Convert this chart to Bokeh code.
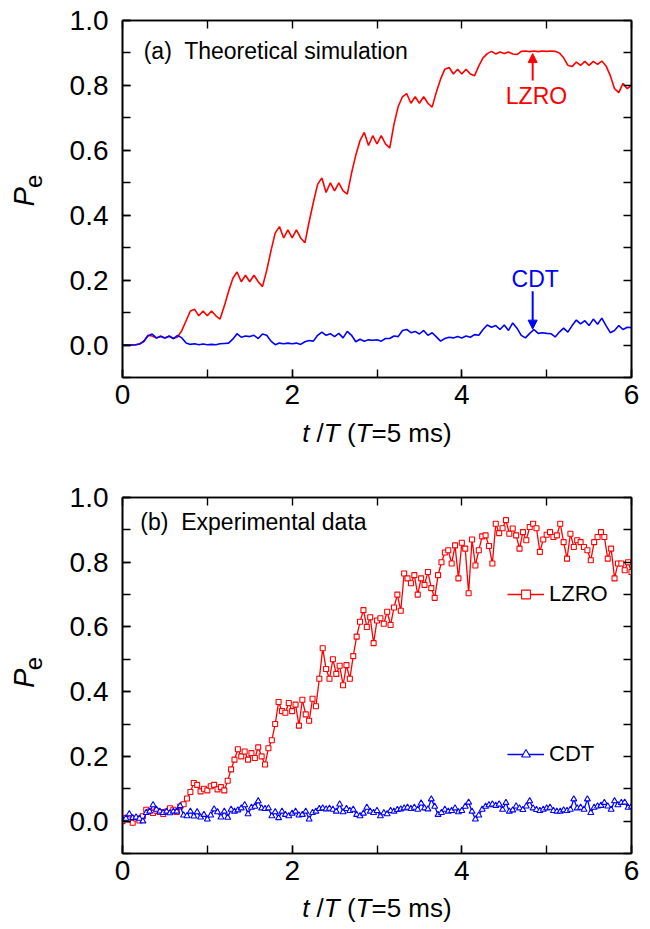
import math
from bokeh.plotting import figure
from bokeh.layouts import column, row
from bokeh.core.properties import value
from bokeh.models import (Range1d, LinearAxis, SingleIntervalTicker, FixedTicker,
                          NumeralTickFormatter, Label, Arrow, NormalHead, Legend, LegendItem)
from bokeh.embed import file_html
from bokeh.resources import INLINE

FONT = "Liberation Sans"
RED = "#ff0000"
BLUE = "#0000ff"

# ---------------- data ----------------
# (a) theoretical simulation, sampled every 0.05 T
t_theory = [round(i * 0.05, 2) for i in range(121)]
lzro_theory = [
    0.000, 0.000, 0.000, 0.000, 0.003, 0.010, 0.030, 0.028, 0.022, 0.028,
    0.022, 0.028, 0.020, 0.025, 0.045, 0.075, 0.105, 0.110, 0.090, 0.105,
    0.090, 0.105, 0.090, 0.080, 0.120, 0.165, 0.205, 0.225, 0.195, 0.215,
    0.195, 0.215, 0.195, 0.180, 0.230, 0.290, 0.345, 0.365, 0.330, 0.355,
    0.330, 0.355, 0.330, 0.315, 0.380, 0.440, 0.495, 0.515, 0.470, 0.500,
    0.475, 0.500, 0.475, 0.465, 0.530, 0.585, 0.630, 0.655, 0.615, 0.645,
    0.620, 0.645, 0.620, 0.607, 0.680, 0.735, 0.765, 0.775, 0.745, 0.765,
    0.745, 0.765, 0.745, 0.733, 0.780, 0.820, 0.850, 0.855, 0.835, 0.850,
    0.835, 0.850, 0.835, 0.830, 0.860, 0.885, 0.898, 0.905, 0.897, 0.903,
    0.898, 0.903, 0.897, 0.895, 0.905, 0.906, 0.904, 0.906, 0.904, 0.906,
    0.905, 0.906, 0.905, 0.900, 0.885, 0.862, 0.858, 0.872, 0.862, 0.874,
    0.862, 0.874, 0.865, 0.875, 0.860, 0.830, 0.790, 0.778, 0.806, 0.790,
    0.800,
]
cdt_theory = [
    0.000, 0.000, 0.000, 0.001, 0.003, 0.012, 0.028, 0.034, 0.022, 0.026,
    0.022, 0.027, 0.020, 0.030, 0.022, 0.006, 0.002, 0.004, 0.001, 0.003,
    0.001, 0.002, 0.001, 0.004, 0.005, 0.006, 0.018, 0.035, 0.024, 0.028,
    0.026, 0.030, 0.020, 0.034, 0.030, 0.012, 0.001, 0.006, 0.004, 0.006,
    0.004, 0.006, 0.002, 0.010, 0.014, 0.012, 0.030, 0.040, 0.030, 0.035,
    0.026, 0.036, 0.022, 0.042, 0.030, 0.010, 0.018, 0.012, 0.016, 0.015,
    0.016, 0.012, 0.020, 0.020, 0.028, 0.026, 0.045, 0.048, 0.038, 0.042,
    0.034, 0.045, 0.030, 0.038, 0.025, 0.012, 0.020, 0.024, 0.022, 0.026,
    0.022, 0.028, 0.024, 0.032, 0.030, 0.048, 0.062, 0.055, 0.060, 0.048,
    0.062, 0.045, 0.068, 0.052, 0.030, 0.022, 0.036, 0.048, 0.036, 0.038,
    0.036, 0.035, 0.025, 0.040, 0.052, 0.040, 0.060, 0.077, 0.065, 0.075,
    0.060, 0.080, 0.064, 0.083, 0.060, 0.038, 0.045, 0.060, 0.048, 0.055,
    0.054,
]

# (b) experimental data, sampled every 0.04 T
t_exp = [round(i * 0.04, 2) for i in range(151)]
lzro_exp = [
    0.000, 0.010, 0.005, -0.005, 0.008, 0.002, 0.015, 0.035, 0.030, 0.025,
    0.032, 0.028, 0.022, 0.030, 0.040, 0.035, 0.028, 0.045, 0.052, 0.070,
    0.090, 0.118, 0.112, 0.092, 0.100, 0.095, 0.108, 0.112, 0.098, 0.105,
    0.095, 0.125, 0.160, 0.190, 0.222, 0.200, 0.215, 0.190, 0.210, 0.195,
    0.228, 0.200, 0.175, 0.225, 0.250, 0.300, 0.368, 0.340, 0.335, 0.365,
    0.340, 0.360, 0.295, 0.375, 0.330, 0.310, 0.378, 0.355, 0.440, 0.534,
    0.470, 0.440, 0.500, 0.455, 0.480, 0.420, 0.482, 0.440, 0.510, 0.570,
    0.616, 0.652, 0.600, 0.630, 0.550, 0.620, 0.627, 0.610, 0.647, 0.606,
    0.660, 0.700, 0.650, 0.765, 0.750, 0.735, 0.760, 0.700, 0.750, 0.730,
    0.770, 0.720, 0.690, 0.760, 0.800, 0.830, 0.837, 0.796, 0.852, 0.750,
    0.860, 0.842, 0.704, 0.870, 0.790, 0.837, 0.880, 0.883, 0.850, 0.796,
    0.919, 0.890, 0.905, 0.930, 0.888, 0.904, 0.883, 0.842, 0.893, 0.868,
    0.909, 0.919, 0.905, 0.832, 0.870, 0.885, 0.893, 0.878, 0.883, 0.919,
    0.862, 0.811, 0.888, 0.847, 0.868, 0.862, 0.847, 0.837, 0.806, 0.862,
    0.878, 0.893, 0.878, 0.811, 0.842, 0.750, 0.796, 0.796, 0.775, 0.800,
    0.770,
]
cdt_exp = [
    0.006, 0.008, 0.022, 0.010, 0.012, 0.008, 0.000, 0.026, 0.030, 0.050,
    0.036, 0.030, 0.026, 0.030, 0.025, 0.030, 0.030, 0.047, 0.018, 0.016,
    0.030, 0.015, 0.028, 0.012, 0.020, 0.006, 0.018, 0.037, 0.028, 0.012,
    0.030, 0.011, 0.036, 0.030, 0.034, 0.040, 0.050, 0.022, 0.042, 0.045,
    0.062, 0.040, 0.038, 0.040, 0.016, 0.028, 0.010, 0.030, 0.020, 0.016,
    0.024, 0.030, 0.018, 0.020, 0.030, 0.006, 0.026, 0.030, 0.038, 0.040,
    0.037, 0.039, 0.036, 0.030, 0.052, 0.028, 0.038, 0.032, 0.036, 0.020,
    0.016, 0.024, 0.042, 0.030, 0.026, 0.032, 0.016, 0.025, 0.022, 0.032,
    0.030, 0.035, 0.037, 0.040, 0.042, 0.038, 0.042, 0.036, 0.055, 0.040,
    0.037, 0.068, 0.045, 0.020, 0.026, 0.036, 0.030, 0.032, 0.040, 0.028,
    0.032, 0.045, 0.058, 0.030, 0.006, 0.018, 0.036, 0.045, 0.050, 0.052,
    0.048, 0.052, 0.036, 0.057, 0.030, 0.034, 0.046, 0.040, 0.035, 0.046,
    0.062, 0.040, 0.035, 0.032, 0.036, 0.040, 0.042, 0.032, 0.030, 0.030,
    0.034, 0.032, 0.036, 0.068, 0.040, 0.042, 0.036, 0.068, 0.026, 0.042,
    0.046, 0.048, 0.057, 0.046, 0.036, 0.062, 0.050, 0.057, 0.058, 0.042,
    0.045,
]

x_range_vals = (0, 6)
y_range_vals = (-0.1, 1.0)
x_minor_positions = [0, 1, 2, 3, 4, 5, 6]
y_minor_positions = [-0.1, 0.0, 0.1, 0.2, 0.3, 0.4, 0.5, 0.6, 0.7, 0.8, 0.9, 1.0]

TICK_FONT = "28px"
YSTRIP_W = 58          # width of the strip holding the rotated y title
PLOT_W = 590           # width of each plot canvas


def style_axis(ax, standoff):
    ax.axis_line_width = 1.6
    ax.axis_line_color = "black"
    ax.major_tick_in = 8
    ax.major_tick_out = 0
    ax.minor_tick_in = 8
    ax.minor_tick_out = 0
    ax.major_tick_line_width = 1.4
    ax.minor_tick_line_width = 1.4
    ax.major_tick_line_color = "black"
    ax.minor_tick_line_color = "black"
    ax.major_label_text_font = FONT
    ax.major_label_text_font_size = TICK_FONT
    ax.major_label_text_color = "black"
    ax.major_label_standoff = standoff


def make_fig(h, btop, bbot):
    p = figure(width=PLOT_W, height=h, x_range=Range1d(*x_range_vals),
               y_range=Range1d(*y_range_vals), output_backend="svg",
               toolbar_location=None, min_border_left=64, min_border_right=17,
               min_border_top=btop, min_border_bottom=bbot)
    p.xgrid.visible = False
    p.ygrid.visible = False
    p.outline_line_color = "black"
    p.outline_line_width = 1.6
    p.background_fill_color = "white"
    p.border_fill_color = "white"
    p.xaxis.ticker = SingleIntervalTicker(interval=2, num_minor_ticks=2)
    p.yaxis.ticker = SingleIntervalTicker(interval=0.2, num_minor_ticks=2)
    p.xaxis.formatter = NumeralTickFormatter(format="0")
    p.yaxis.formatter = NumeralTickFormatter(format="0.0")
    for ax in p.xaxis:
        style_axis(ax, 7)
    for ax in p.yaxis:
        style_axis(ax, 14)
    top = LinearAxis(ticker=FixedTicker(ticks=[], minor_ticks=x_minor_positions))
    style_axis(top, 0)
    p.add_layout(top, "above")
    right = LinearAxis(ticker=FixedTicker(ticks=[], minor_ticks=y_minor_positions))
    style_axis(right, 0)
    p.add_layout(right, "right")
    return p


def make_strip(w, h):
    s = figure(width=w, height=h, x_range=Range1d(0, w), y_range=Range1d(0, h),
               output_backend="svg", toolbar_location=None,
               x_axis_location=None, y_axis_location=None,
               min_border=0, min_border_left=0, min_border_right=0,
               min_border_top=0, min_border_bottom=0)
    s.outline_line_color = None
    s.xgrid.visible = False
    s.ygrid.visible = False
    s.background_fill_color = "white"
    s.border_fill_color = "white"
    return s


def add_label(p, x, y, text, size="23px", color="black", align="left"):
    p.add_layout(Label(x=x, y=y, text=text, text_font=FONT, text_font_size=size,
                       text_color=color, text_align=align, text_baseline="middle"))


def x_title_strip(h, yc):
    # "t /T (T=5 ms)" with italic symbols; pieces laid out left to right
    s = make_strip(YSTRIP_W + PLOT_W, h)
    s.text(x=[301.7, 323.3, 355.1], y=[yc] * 3, text=["t", "T", "T"],
           text_font=value(FONT), text_font_size="26px", text_font_style="italic",
           text_align="left", text_baseline="middle", text_color="black")
    s.text(x=[316.1, 346.4, 371.0], y=[yc] * 3, text=["/", "(", "=5 ms)"],
           text_font=value(FONT), text_font_size="26px", text_font_style="normal",
           text_align="left", text_baseline="middle", text_color="black")
    return s


def y_title_strip(h, yp, ye):
    s = make_strip(YSTRIP_W, h)
    s.text(x=[23], y=[yp], text=["P"], angle=math.pi / 2, text_font=value(FONT),
           text_font_size="29px", text_font_style="italic", text_align="center",
           text_baseline="middle", text_color="black")
    s.text(x=[33], y=[ye], text=["e"], angle=math.pi / 2, text_font=value(FONT),
           text_font_size="24px", text_font_style="normal", text_align="center",
           text_baseline="middle", text_color="black")
    return s


# ---------------- (a) theoretical ----------------
H1 = 417
p1 = make_fig(H1, 20, 40)
p1.line(t_theory, lzro_theory, line_color=RED, line_width=1.6)
p1.line(t_theory, cdt_theory, line_color=BLUE, line_width=1.6)
add_label(p1, 0.25, 0.905, "(a)\u00a0 Theoretical simulation")
add_label(p1, 4.88, 0.766, "LZRO", color=RED, align="center")
add_label(p1, 4.865, 0.203, "CDT", color=BLUE, align="center")
p1.add_layout(Arrow(end=NormalHead(size=9, fill_color=RED, line_color=RED),
                    x_start=4.835, y_start=0.815, x_end=4.835, y_end=0.898,
                    line_color=RED, line_width=2))
p1.add_layout(Arrow(end=NormalHead(size=9, fill_color=BLUE, line_color=BLUE),
                    x_start=4.835, y_start=0.166, x_end=4.835, y_end=0.049,
                    line_color=BLUE, line_width=2))

# ---------------- (b) experimental ----------------
H2 = 433
p2 = make_fig(H2, 37, 40)
rl_line = p2.line(t_exp, lzro_exp, line_color=RED, line_width=1.3)
rl_sc = p2.scatter(t_exp, lzro_exp, marker="square", size=5, line_color=RED,
                   fill_color="white", line_width=1.1)
rc_line = p2.line(t_exp, cdt_exp, line_color=BLUE, line_width=1.3)
rc_sc = p2.scatter(t_exp, cdt_exp, marker="triangle", size=6, line_color=BLUE,
                   fill_color="white", line_width=1.1)
add_label(p2, 0.21, 0.923, "(b)\u00a0 Experimental data")


def make_legend(label, renderers, loc):
    return Legend(items=[LegendItem(label=label, renderers=renderers)], location=loc,
                  border_line_color=None, background_fill_alpha=0, padding=0, margin=0,
                  spacing=0, label_text_font=FONT, label_text_font_size="22px",
                  label_text_color="black", glyph_width=37, glyph_height=22,
                  label_height=22, label_standoff=5)


p2.add_layout(make_legend("LZRO", [rl_line, rl_sc], (385, 246)))
p2.add_layout(make_legend("CDT", [rc_line, rc_sc], (385, 86)))

# ---------------- titles & layout ----------------
y1 = y_title_strip(H1, H1 - 206, H1 - 188)
x1 = x_title_strip(43, 43 - 15)
y2 = y_title_strip(H2, H2 - (822 - 142 - 460), H2 - (822 - 160 - 460))
x2 = x_title_strip(35, 35 - 14)

layout = column(row(y1, p1, spacing=0), x1, row(y2, p2, spacing=0), x2, spacing=0)
open("out.html", "w").write(file_html(layout, INLINE))
